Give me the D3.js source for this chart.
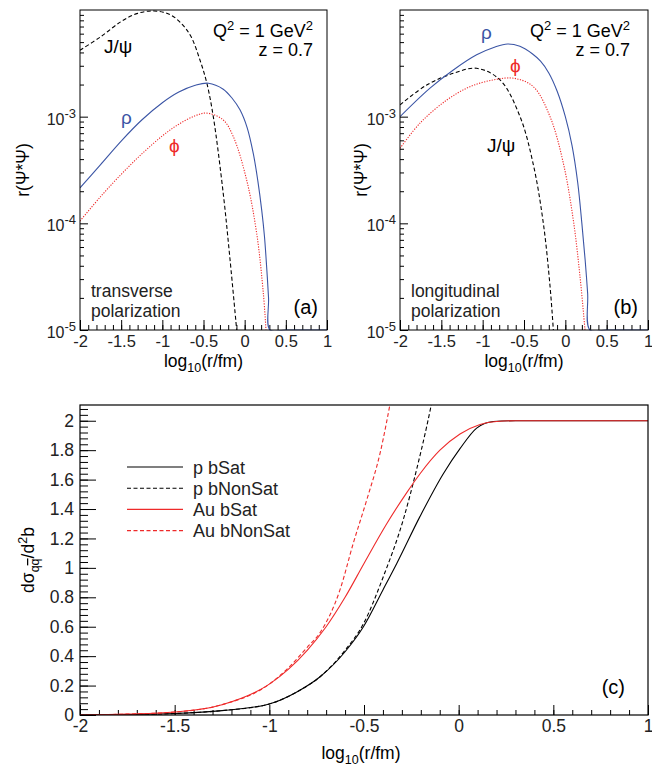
<!DOCTYPE html>
<html>
<head>
<meta charset="utf-8">
<script src="https://cdn.jsdelivr.net/npm/d3@7"></script>
<style>
  body { margin: 0; background: #fff; }
  svg { font-family: "Liberation Sans", Arial, Helvetica, sans-serif; }
</style>
</head>
<body>
<svg id="chart" width="652" height="766"></svg>
<script>
// values: [log10(r/fm), value]
const aJpsi = [[-2, 4.2e-3], [-1.75, 5.6e-3], [-1.5, 7.8e-3], [-1.3, 9.3e-3], [-1.1, 9.8e-3], [-0.9, 9.0e-3],
  [-0.75, 7.2e-3], [-0.65, 5.6e-3], [-0.543, 3.4e-3], [-0.46, 2.07e-3], [-0.381, 1.0e-3], [-0.26, 1.9e-4],
  [-0.178, 4.6e-5], [-0.097, 1e-5]];
const aRho = [[-2, 2.15e-4], [-1.75, 3.55e-4], [-1.5, 5.9e-4], [-1.25, 9.3e-4], [-1.0, 1.35e-3], [-0.8, 1.70e-3],
  [-0.6, 1.97e-3], [-0.44, 2.06e-3], [-0.26, 1.81e-3], [-0.15, 1.48e-3], [-0.057, 1.16e-3], [0.03, 7.9e-4],
  [0.105, 4.5e-4], [0.16, 2.5e-4], [0.207, 1.33e-4], [0.24, 7.6e-5], [0.267, 3.9e-5], [0.29, 2.0e-5],
  [0.308, 1e-5], [0.5, 1e-5], [1, 1e-5]];
const aPhi = [[-2, 1.05e-4], [-1.75, 1.78e-4], [-1.5, 2.88e-4], [-1.25, 4.47e-4], [-1.0, 6.6e-4], [-0.8, 8.5e-4],
  [-0.6, 1.02e-3], [-0.46, 1.08e-3], [-0.26, 9.3e-4], [-0.138, 6.5e-4], [0.024, 2.55e-4], [0.146, 8.05e-5],
  [0.227, 2.2e-5], [0.259, 1e-5]];

const bJpsi = [[-2, 1.29e-3], [-1.677, 1.98e-3], [-1.355, 2.55e-3], [-1.073, 2.84e-3], [-0.79, 2.21e-3],
  [-0.548, 1.0e-3], [-0.387, 3.55e-4], [-0.266, 1.0e-4], [-0.185, 2.57e-5], [-0.145, 1e-5]];
const bRho = [[-2, 1.0e-3], [-1.637, 1.85e-3], [-1.355, 2.74e-3], [-1.073, 3.8e-3], [-0.85, 4.5e-3], [-0.7, 4.8e-3],
  [-0.55, 4.57e-3], [-0.4, 3.89e-3], [-0.3, 3.31e-3], [-0.2, 2.57e-3], [-0.1, 1.74e-3], [0.0, 1.0e-3],
  [0.08, 5.4e-4], [0.15, 2.4e-4], [0.2, 1.0e-4], [0.24, 4.5e-5], [0.27, 2.2e-5], [0.298, 1e-5], [0.5, 1e-5], [1, 1e-5]];
const bPhi = [[-2, 5.05e-4], [-1.758, 8.7e-4], [-1.435, 1.43e-3], [-1.153, 1.91e-3], [-0.871, 2.21e-3], [-0.62, 2.29e-3],
  [-0.387, 1.91e-3], [-0.185, 1.0e-3], [-0.024, 3.66e-4], [0.096, 1.08e-4], [0.177, 3.2e-5], [0.238, 1e-5]];

const pSat = [[-2, 0], [-1.75, 0.003], [-1.5, 0.01], [-1.25, 0.03], [-1, 0.075], [-0.85, 0.16], [-0.732, 0.26],
  [-0.6, 0.43], [-0.503, 0.6], [-0.4, 0.85], [-0.327, 1.03], [-0.204, 1.35], [-0.081, 1.64], [0.007, 1.81],
  [0.095, 1.95], [0.183, 1.995], [0.3, 2], [1, 2]];
const pNonSat = [[-2, 0], [-1.75, 0.003], [-1.5, 0.01], [-1.25, 0.03], [-1, 0.075], [-0.85, 0.16], [-0.732, 0.26],
  [-0.6, 0.44], [-0.503, 0.62], [-0.398, 0.94], [-0.292, 1.33], [-0.222, 1.67], [-0.169, 1.96], [-0.13, 2.2]];
const auSat = [[-2, 0], [-1.75, 0.006], [-1.5, 0.02], [-1.25, 0.07], [-1, 0.21], [-0.9, 0.31], [-0.8, 0.44],
  [-0.7, 0.6], [-0.6, 0.8], [-0.5, 1.03], [-0.38, 1.3], [-0.275, 1.51], [-0.204, 1.64], [-0.099, 1.8],
  [0.007, 1.91], [0.113, 1.975], [0.2, 1.995], [0.3, 2], [1, 2]];
const auNonSat = [[-2, 0], [-1.75, 0.006], [-1.5, 0.02], [-1.25, 0.07], [-1, 0.21], [-0.9, 0.32], [-0.8, 0.46],
  [-0.732, 0.56], [-0.627, 0.85], [-0.556, 1.17], [-0.486, 1.46], [-0.415, 1.78], [-0.35, 2.2]];

const xTicks = [-2, -1.5, -1, -0.5, 0, 0.5, 1];
const xTickLabels = ["-2", "-1.5", "-1", "-0.5", "0", "0.5", "1"];
const logTicks = [1e-5, 1e-4, 1e-3];
const logTickExp = ["-5", "-4", "-3"];
const cYTicks = [0, 0.2, 0.4, 0.6, 0.8, 1, 1.2, 1.4, 1.6, 1.8, 2];
const cYTickLabels = ["0", "0.2", "0.4", "0.6", "0.8", "1", "1.2", "1.4", "1.6", "1.8", "2"];
const legendNames = ["p bSat", "p bNonSat", "Au bSat", "Au bNonSat"];

const BLUE = "#3b55a5", RED = "#ee2a2a";
const svg = d3.select("#chart");

function xTitle(g, x, y) {
  const t = g.append("text").attr("x", x).attr("y", y).attr("text-anchor", "middle").style("font-size", "17.5px");
  t.append("tspan").text("log");
  t.append("tspan").attr("dy", 5).style("font-size", "12.5px").text("10");
  t.append("tspan").attr("dy", -5).text("(r/fm)");
}

function xAxes(g, x, yPix, major, minor, fs) {
  g.append("g").attr("transform", `translate(0,${yPix})`)
    .call(d3.axisBottom(x).tickValues(d3.range(-20, 11).map(d => d / 10)).tickSizeInner(-minor).tickSizeOuter(0).tickFormat(""))
    .call(s => s.select(".domain").remove());
  g.append("g").attr("transform", `translate(0,${yPix})`)
    .call(d3.axisBottom(x).tickValues(xTicks).tickSizeInner(-major).tickSizeOuter(0).tickPadding(5)
      .tickFormat((d, i) => xTickLabels[i]))
    .call(s => s.select(".domain").remove())
    .call(s => s.selectAll("text").style("font-size", fs).attr("fill", "#222"));
}

function topPanel(x0, x1, series, opts) {
  const g = svg.append("g");
  const x = d3.scaleLinear().domain([-2, 1]).range([x0, x1]);
  const y = d3.scaleLog().domain([1e-5, 1e-2]).range([330, 10]);
  const id = "clip" + opts.key;
  svg.append("clipPath").attr("id", id).append("rect")
    .attr("x", x0).attr("y", 10).attr("width", x1 - x0).attr("height", 320.5);

  const minor = [];
  [1e-5, 1e-4, 1e-3].forEach(d => { for (let k = 2; k <= 9; k++) minor.push(d * k); });
  g.append("g").attr("transform", `translate(${x0},0)`)
    .call(d3.axisLeft(y).tickValues(minor).tickSizeInner(-4).tickSizeOuter(0).tickFormat(""))
    .call(s => s.select(".domain").remove());
  g.append("g").attr("transform", `translate(${x0},0)`)
    .call(d3.axisLeft(y).tickValues(logTicks).tickSizeInner(-8).tickSizeOuter(0).tickFormat(""))
    .call(s => s.select(".domain").remove());
  logTicks.forEach((d, i) => {
    const t = g.append("text").attr("x", x0 - 4).attr("y", y(d) + 8).attr("text-anchor", "end")
      .style("font-size", "16px").attr("fill", "#222");
    t.append("tspan").text("10");
    t.append("tspan").attr("dy", -7).style("font-size", "13px").text(logTickExp[i]);
  });
  xAxes(g, x, 330, 10, 5, "16.5px");

  const line = d3.line().x(d => x(d[0])).y(d => y(d[1])).curve(d3.curveCatmullRom.alpha(0.5));
  const lg = g.append("g").attr("clip-path", `url(#${id})`);
  series.forEach(s => {
    lg.append("path").datum(s.data).attr("d", line).attr("fill", "none")
      .attr("stroke", s.color).attr("stroke-width", 1.1).attr("stroke-dasharray", s.dash);
  });

  g.append("rect").attr("x", x0).attr("y", 10).attr("width", x1 - x0).attr("height", 320)
    .attr("fill", "none").attr("stroke", "#000").attr("stroke-width", 1);

  xTitle(g, (x0 + x1) / 2, 367);
  g.append("text").attr("transform", `translate(${x0 - opts.titleOff},170) rotate(-90)`).attr("text-anchor", "middle")
    .style("font-size", "17.5px").text("r(\u03A8*\u03A8)");

  const q = g.append("text").attr("x", x1 - opts.qOff).attr("y", 37).attr("text-anchor", "end").style("font-size", "18px");
  q.append("tspan").text("Q");
  q.append("tspan").attr("dy", -7).style("font-size", "13px").text("2");
  q.append("tspan").attr("dy", 7).text(" = 1 GeV");
  q.append("tspan").attr("dy", -7).style("font-size", "13px").text("2");
  g.append("text").attr("x", x1 - opts.qOff).attr("y", 56).attr("text-anchor", "end").style("font-size", "18px").text("z = 0.7");

  opts.labels.forEach(l => {
    g.append("text").attr("x", l.x).attr("y", l.y).style("font-size", "19px").attr("fill", l.color).text(l.text);
  });
  g.append("text").attr("x", x0 + 11).attr("y", 297).style("font-size", "17.5px").attr("fill", "#222").text(opts.pol);
  g.append("text").attr("x", x0 + 11).attr("y", 317).style("font-size", "17.5px").attr("fill", "#222").text("polarization");
  g.append("text").attr("x", x1 - opts.tagOff).attr("y", 314).attr("text-anchor", "end").style("font-size", "20px").text(opts.tag);
}

topPanel(80, 327, [
  { data: aJpsi, color: "#000", dash: "4,2.5" },
  { data: aRho, color: BLUE, dash: null },
  { data: aPhi, color: RED, dash: "1.2,1.4" }
], {
  key: "a", tag: "(a)", pol: "transverse", titleOff: 51, qOff: 14, tagOff: 9,
  labels: [
    { text: "J/\u03C8", x: 104, y: 53, color: "#000" },
    { text: "\u03C1", x: 121, y: 124, color: BLUE },
    { text: "\u03D5", x: 169, y: 152, color: RED }
  ]
});

topPanel(400, 648, [
  { data: bJpsi, color: "#000", dash: "4,2.5" },
  { data: bRho, color: BLUE, dash: null },
  { data: bPhi, color: RED, dash: "1.2,1.4" }
], {
  key: "b", tag: "(b)", pol: "longitudinal", titleOff: 33, qOff: 18, tagOff: 10,
  labels: [
    { text: "\u03C1", x: 481, y: 39, color: BLUE },
    { text: "\u03D5", x: 510, y: 72, color: RED },
    { text: "J/\u03C8", x: 487, y: 152, color: "#000" }
  ]
});

// panel (c)
{
  const x0 = 80, x1 = 648, yb = 715, yt = 405;
  const g = svg.append("g");
  const x = d3.scaleLinear().domain([-2, 1]).range([x0, x1]);
  const y = d3.scaleLinear().domain([0, 2.107]).range([yb, yt]);
  svg.append("clipPath").attr("id", "clipc").append("rect")
    .attr("x", x0).attr("y", yt).attr("width", x1 - x0).attr("height", yb - yt);

  g.append("g").attr("transform", `translate(${x0},0)`)
    .call(d3.axisLeft(y).tickValues(d3.range(0, 53).map(d => d * 0.04)).tickSizeInner(-8).tickSizeOuter(0).tickFormat(""))
    .call(s => s.select(".domain").remove());
  g.append("g").attr("transform", `translate(${x0},0)`)
    .call(d3.axisLeft(y).tickValues(cYTicks).tickSizeInner(-16).tickSizeOuter(0).tickPadding(6)
      .tickFormat((d, i) => cYTickLabels[i]))
    .call(s => s.select(".domain").remove())
    .call(s => s.selectAll("text").style("font-size", "17.5px").attr("fill", "#222"));
  xAxes(g, x, yb, 10, 5, "17.5px");

  const line = d3.line().x(d => x(d[0])).y(d => y(d[1])).curve(d3.curveMonotoneX);
  const series = [
    { data: pSat, color: "#000", dash: null },
    { data: pNonSat, color: "#000", dash: "4,2.5" },
    { data: auSat, color: RED, dash: null },
    { data: auNonSat, color: RED, dash: "4,2.5" }
  ];
  const lg = g.append("g").attr("clip-path", "url(#clipc)");
  series.forEach(s => {
    lg.append("path").datum(s.data).attr("d", line).attr("fill", "none")
      .attr("stroke", s.color).attr("stroke-width", 1.1).attr("stroke-dasharray", s.dash);
  });

  g.append("rect").attr("x", x0).attr("y", yt).attr("width", x1 - x0).attr("height", yb - yt)
    .attr("fill", "none").attr("stroke", "#000").attr("stroke-width", 1.2);

  // legend
  series.forEach((s, i) => {
    const ly = 467 + i * 21.2;
    g.append("line").attr("x1", 127).attr("x2", 183).attr("y1", ly).attr("y2", ly)
      .attr("stroke", s.color).attr("stroke-width", 1.1).attr("stroke-dasharray", s.dash);
    g.append("text").attr("x", 193).attr("y", ly + 6.5).style("font-size", "18px").attr("fill", "#222").text(legendNames[i]);
  });

  xTitle(g, 361, 759);
  const yt2 = g.append("text").attr("transform", `translate(34,${(yb + yt) / 2}) rotate(-90)`)
    .attr("text-anchor", "middle").style("font-size", "17.5px");
  yt2.append("tspan").text("d\u03C3");
  yt2.append("tspan").attr("dy", 5).style("font-size", "12.5px").text("q");
  yt2.append("tspan").style("font-size", "12.5px").style("text-decoration", "overline").text("q");
  yt2.append("tspan").attr("dy", -5).text("/d");
  yt2.append("tspan").attr("dy", -7).style("font-size", "12.5px").text("2");
  yt2.append("tspan").attr("dy", 7).text("b");

  g.append("text").attr("x", 625).attr("y", 694).attr("text-anchor", "end").style("font-size", "20px").text("(c)");
}
</script>
</body>
</html>
